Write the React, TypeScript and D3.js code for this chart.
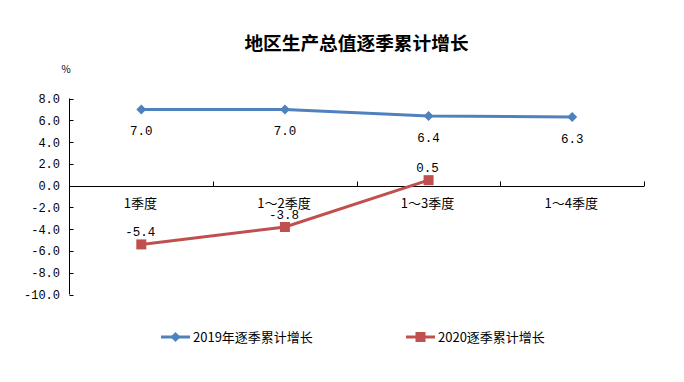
import React from "react";
import * as d3 from "d3";

const categories = ["1季度", "1～2季度", "1～3季度", "1～4季度"];
const series2019: (number | null)[] = [7.0, 7.0, 6.4, 6.3];
const series2020: (number | null)[] = [-5.4, -3.8, 0.5, null];
const yTicks = [8, 6, 4, 2, 0, -2, -4, -6, -8, -10];
const seriesNames = ["2019年逐季累计增长", "2020逐季累计增长"];
const title = "地区生产总值逐季累计增长";

const BLUE = "#4F81BD";
const RED = "#C0504D";
const CN = "'Noto Sans CJK SC', sans-serif";
const NUM = "'Liberation Mono', 'DejaVu Sans Mono', monospace";

export default function App() {
  const W = 684, H = 382;
  const x0 = 69.5, x1 = 644;
  const y = d3.scaleLinear().domain([-10, 8]).range([294.5, 98.5]);
  const xb = d3.scaleBand<string>().domain(categories).range([x0, x1]);
  const cx = (c: string) => (xb(c) as number) + xb.bandwidth() / 2;
  const line = d3
    .line<number | null>()
    .defined((d) => d != null)
    .x((_, i) => cx(categories[i]))
    .y((d) => y(d as number));
  const zeroY = Math.round(y(0)) + 0.5;

  const diamond = (px: number, py: number, r: number, key: string) => (
    <path key={key} d={`M${px},${py - r}L${px + r},${py}L${px},${py + r}L${px - r},${py}Z`} fill={BLUE} />
  );
  const square = (px: number, py: number, r: number, key: string) => (
    <rect key={key} x={px - r} y={py - r} width={2 * r} height={2 * r} fill={RED} />
  );

  return (
    <svg width={W} height={H} style={{ position: "absolute", left: 0, top: 0, background: "#fff" }}>
      <text x={356.5} y={50} textAnchor="middle" fontFamily={CN} fontWeight="bold" fontSize={18.7} fill="#000">
        {title}
      </text>
      <text x={61.5} y={73} fontFamily={CN} fontSize={10} fill="#000">%</text>

      {/* y axis */}
      <line x1={x0} x2={x0} y1={y(8)} y2={y(-10)} stroke="#000" strokeWidth={1} />
      {yTicks.map((t) => (
        <g key={t}>
          <line x1={x0} x2={x0 + 4} y1={Math.round(y(t)) + 0.5} y2={Math.round(y(t)) + 0.5} stroke="#000" />
          <text x={60} y={y(t) + 4.5} textAnchor="end" fontFamily={NUM} fontSize={12} fill="#000">
            {t.toFixed(1)}
          </text>
        </g>
      ))}

      {/* x axis */}
      <line x1={x0} x2={x1} y1={zeroY} y2={zeroY} stroke="#000" />
      {categories.map((c) => {
        const tx = Math.round((xb(c) as number) + xb.bandwidth()) + 0.5;
        return <line key={c} x1={tx} x2={tx} y1={zeroY} y2={zeroY - 5} stroke="#000" />;
      })}
      {categories.map((c) => (
        <text key={c} x={cx(c) - 1} y={208} textAnchor="middle" fontFamily={CN} fontSize={13} fill="#000">
          {c}
        </text>
      ))}

      {/* 2019 */}
      <path d={line(series2019) || ""} fill="none" stroke={BLUE} strokeWidth={3} />
      {series2019.map((v, i) =>
        v == null ? null : diamond(cx(categories[i]), y(v), 5, "d" + i)
      )}
      {series2019.map((v, i) =>
        v == null ? null : (
          <text key={"l" + i} x={cx(categories[i])} y={y(v) + 26} textAnchor="middle" fontFamily={NUM} fontSize={12.5} fill="#000">
            {v.toFixed(1)}
          </text>
        )
      )}

      {/* 2020 */}
      <path d={line(series2020) || ""} fill="none" stroke={RED} strokeWidth={3} />
      {series2020.map((v, i) =>
        v == null ? null : square(cx(categories[i]), y(v), 5, "s" + i)
      )}
      {series2020.map((v, i) =>
        v == null ? null : (
          <text key={"m" + i} x={cx(categories[i]) - 1} y={y(v) - 8} textAnchor="middle" fontFamily={NUM} fontSize={12.5} fill="#000">
            {v.toFixed(1)}
          </text>
        )
      )}

      {/* legend */}
      <line x1={161} x2={190} y1={337} y2={337} stroke={BLUE} strokeWidth={3} />
      {diamond(175.5, 337, 5, "ld")}
      <text x={193} y={341.5} fontFamily={CN} fontSize={13} fill="#000">{seriesNames[0]}</text>
      <line x1={406} x2={435} y1={337} y2={337} stroke={RED} strokeWidth={3} />
      {square(420.5, 337, 5, "ls")}
      <text x={438} y={341.5} fontFamily={CN} fontSize={13} fill="#000">{seriesNames[1]}</text>
    </svg>
  );
}
